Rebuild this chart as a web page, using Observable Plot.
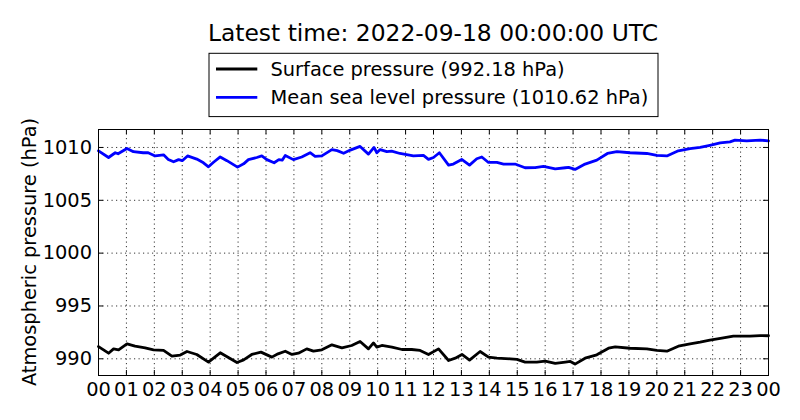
<!DOCTYPE html>
<html><head><meta charset="utf-8">
<script src="https://cdn.jsdelivr.net/npm/d3@7"></script>
<script src="https://cdn.jsdelivr.net/npm/@observablehq/plot@0.6"></script>
<style>body{margin:0;background:#fff;} #chart{width:800px;height:420px;}</style>
</head><body><div id="chart"></div>
<script>
const hourTicks = d3.range(0, 25);
const pressureTicks = [990, 995, 1000, 1005, 1010];
const titleText = "Latest time: 2022-09-18 00:00:00 UTC";
const seriesNames = ["Surface pressure (992.18 hPa)", "Mean sea level pressure (1010.62 hPa)"];
const seriesColors = ["#000000", "#0000ff"];
const yLabel = "Atmospheric pressure (hPa)";

const surfaceHours = [0, 0.36, 0.54, 0.72, 1.02, 1.31, 1.67, 1.97, 2.33, 2.63, 2.93, 3.17, 3.52, 3.94, 4.36, 4.96, 5.2, 5.49, 5.82, 6.21, 6.43, 6.69, 6.93, 7.16, 7.46, 7.7, 8.0, 8.36, 8.72, 9.07, 9.37, 9.67, 9.85, 9.97, 10.15, 10.51, 10.87, 11.22, 11.52, 11.82, 12.18, 12.54, 12.78, 13.02, 13.29, 13.67, 13.97, 14.27, 14.75, 14.99, 15.28, 15.7, 16.0, 16.36, 16.72, 16.9, 17.07, 17.43, 17.85, 18.27, 18.51, 19.04, 19.64, 20.0, 20.36, 20.77, 21.19, 21.55, 21.9, 22.33, 22.74, 23.34, 23.7, 24];
const surfaceValues = [991.16, 990.53, 990.94, 990.85, 991.42, 991.2, 991.04, 990.85, 990.79, 990.25, 990.35, 990.69, 990.41, 989.69, 990.57, 989.65, 989.9, 990.41, 990.63, 990.16, 990.47, 990.72, 990.41, 990.53, 990.94, 990.72, 990.85, 991.32, 991.04, 991.26, 991.64, 990.94, 991.5, 991.1, 991.26, 991.1, 990.88, 990.88, 990.79, 990.41, 990.94, 989.84, 990.06, 990.41, 989.87, 990.69, 990.16, 990.06, 990.0, 989.94, 989.69, 989.69, 989.78, 989.56, 989.69, 989.75, 989.5, 990.06, 990.38, 991.0, 991.13, 991.0, 990.94, 990.79, 990.72, 991.19, 991.42, 991.57, 991.76, 991.95, 992.14, 992.14, 992.2, 992.18];

const mslHours = [0, 0.36, 0.6, 0.7, 1.02, 1.25, 1.6, 1.78, 2.03, 2.33, 2.5, 2.69, 2.87, 3.0, 3.19, 3.52, 3.76, 3.94, 4.12, 4.36, 4.6, 4.98, 5.2, 5.37, 5.67, 5.85, 6.03, 6.29, 6.46, 6.58, 6.69, 6.98, 7.28, 7.58, 7.76, 8.0, 8.36, 8.55, 8.78, 9.02, 9.37, 9.67, 9.87, 9.97, 10.09, 10.33, 10.5, 10.8, 11.28, 11.64, 11.82, 12.0, 12.21, 12.54, 12.71, 13.01, 13.29, 13.55, 13.73, 13.97, 14.27, 14.51, 14.92, 15.28, 15.64, 15.94, 16.36, 16.72, 16.84, 17.07, 17.43, 17.85, 18.23, 18.57, 19.04, 19.64, 20.0, 20.36, 20.77, 21.19, 21.55, 21.9, 22.27, 22.62, 22.8, 23.22, 23.7, 24];
const mslValues = [1009.68, 1009.05, 1009.5, 1009.4, 1009.9, 1009.6, 1009.5, 1009.5, 1009.2, 1009.3, 1008.87, 1008.64, 1008.85, 1008.75, 1009.2, 1008.9, 1008.55, 1008.17, 1008.6, 1009.1, 1008.75, 1008.14, 1008.45, 1008.85, 1009.05, 1009.2, 1008.85, 1008.55, 1008.85, 1008.8, 1009.25, 1008.85, 1009.1, 1009.5, 1009.15, 1009.2, 1009.8, 1009.7, 1009.45, 1009.75, 1010.1, 1009.37, 1010.0, 1009.5, 1009.8, 1009.6, 1009.65, 1009.43, 1009.2, 1009.25, 1008.87, 1009.05, 1009.5, 1008.33, 1008.43, 1008.87, 1008.33, 1008.93, 1009.1, 1008.58, 1008.58, 1008.43, 1008.43, 1008.08, 1008.1, 1008.2, 1007.98, 1008.08, 1008.12, 1007.92, 1008.43, 1008.8, 1009.43, 1009.6, 1009.5, 1009.43, 1009.25, 1009.2, 1009.68, 1009.9, 1010.0, 1010.2, 1010.43, 1010.53, 1010.7, 1010.62, 1010.7, 1010.62];

const surface = surfaceHours.map((h, i) => ({h, v: surfaceValues[i]}));
const msl = mslHours.map((h, i) => ({h, v: mslValues[i]}));

const W = 800, H = 420, mL = 98, mR = 32, mT = 129, mB = 45;
const fw = W - mL - mR, fh = H - mT - mB;
const gridStyle = {stroke: "black", strokeOpacity: 1, strokeWidth: 0.8, strokeDasharray: "1.2,3.3"};

const plot = Plot.plot({
  width: W, height: H,
  marginLeft: mL, marginRight: mR, marginTop: mT, marginBottom: mB,
  style: {fontFamily: "DejaVu Sans", fontSize: "19.4px", color: "black", background: "white", overflow: "visible"},
  x: {domain: [0, 24]},
  y: {domain: [988.42, 1011.7]},
  marks: [
    Plot.gridX(hourTicks, gridStyle),
    Plot.gridY(pressureTicks, gridStyle),
    Plot.line(msl, {x: "h", y: "v", stroke: seriesColors[1], strokeWidth: 2.8}),
    Plot.line(surface, {x: "h", y: "v", stroke: seriesColors[0], strokeWidth: 2.8}),
    Plot.tickX(hourTicks, {x: d => d, stroke: "black", insetTop: fh - 5}),
    Plot.tickX(hourTicks, {x: d => d, stroke: "black", insetBottom: fh - 5}),
    Plot.tickY(pressureTicks, {y: d => d, stroke: "black", insetRight: fw - 5}),
    Plot.tickY(pressureTicks, {y: d => d, stroke: "black", insetLeft: fw - 5}),
    Plot.frame({stroke: "black", strokeWidth: 1}),
    Plot.axisX(hourTicks, {tickFormat: d => String(d % 24).padStart(2, "0"), tickSize: 0, tickPadding: 6.5, label: null, fontSize: 19.4}),
    Plot.axisY(pressureTicks, {tickFormat: d => String(d), tickSize: 0, tickPadding: 6.5, label: null, fontSize: 19.4})
  ]
});
document.getElementById("chart").appendChild(plot);

const svg = d3.select(plot);
svg.append("text").attr("x", mL + fw / 2).attr("y", 41).attr("text-anchor", "middle")
  .attr("font-size", 23.4).attr("fill", "black").text(titleText);

const lg = svg.append("g").attr("text-anchor", "start");
lg.append("rect").attr("x", 209).attr("y", 53.3).attr("width", 449).attr("height", 63.3)
  .attr("fill", "white").attr("stroke", "black").attr("stroke-width", 1);
const rowsY = [69, 97.3];
seriesNames.forEach((name, i) => {
  lg.append("line").attr("x1", 216).attr("x2", 257.3).attr("y1", rowsY[i]).attr("y2", rowsY[i])
    .attr("stroke", seriesColors[i]).attr("stroke-width", 2.8);
  lg.append("text").attr("x", 270.5).attr("y", rowsY[i] + 6.9).attr("font-size", 19.4)
    .attr("text-anchor", "start").attr("fill", "black").text(name);
});

svg.append("text").attr("transform", `translate(36,${mT + fh / 2}) rotate(-90)`)
  .attr("text-anchor", "middle").attr("font-size", 19.4).attr("fill", "black").text(yLabel);
</script>
</body></html>
